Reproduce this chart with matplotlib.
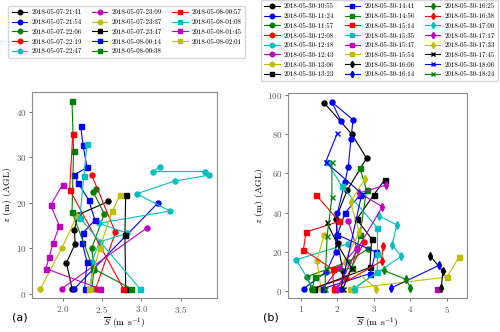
import numpy as np
import matplotlib
matplotlib.use('Agg')
import matplotlib.pyplot as plt

plt.rcParams['font.family'] = 'serif'
plt.rcParams['font.serif'] = ['cmr10', 'DejaVu Serif']
plt.rcParams['mathtext.fontset'] = 'cm'
plt.rcParams['axes.formatter.use_mathtext'] = True

colors = ['k', 'b', 'g', 'r', 'c', 'm', 'y']

# ---- panel (a): 2018-05-07/08 profiles ----
times_a = ['2018-05-07-21:41', '2018-05-07-21:54', '2018-05-07-22:06', '2018-05-07-22:19',
           '2018-05-07-22:47', '2018-05-07-23:09', '2018-05-07-23:37', '2018-05-07-23:47',
           '2018-05-08-00:14', '2018-05-08-00:38', '2018-05-08-00:57', '2018-05-08-01:08',
           '2018-05-08-01:45', '2018-05-08-02:01']
s_a = [
    [2.12, 2.05, 2.16, 2.15, 2.20, 2.58],
    [2.15, 3.21],
    [2.37, 2.40, 2.37, 2.53, 2.39, 2.43],
    [2.42, 2.67, 2.37],
    [2.36, 2.37, 2.47, 2.82, 2.46, 3.36, 2.94, 3.42, 3.85, 3.80, 3.15, 3.23],
    [1.99, 3.07],
    [1.72, 1.99, 2.18],
    [2.80, 2.79, 2.80],
    [2.28, 2.31, 2.25, 2.26, 2.41, 2.33, 2.20, 2.15, 2.31, 2.26, 2.23],
    [2.87, 2.39, 2.12, 2.14, 2.12],
    [2.77, 2.09, 2.13],
    [2.98, 2.22, 2.27, 2.31],
    [2.47, 1.79, 1.83, 1.88, 1.96, 1.85, 2.00],
    [2.33, 2.47, 2.63, 2.73],
]
z_a = [
    [1.1, 6.8, 11.0, 14.1, 17.4, 20.3],
    [1.1, 20.0],
    [1.1, 5.3, 10.0, 17.6, 22.3, 23.0],
    [1.1, 13.5, 26.1],
    [1.1, 7.0, 11.4, 13.3, 15.5, 18.2, 22.0, 24.8, 26.1, 26.9, 26.9, 28.0],
    [1.1, 14.5],
    [1.1, 10.0, 17.0],
    [1.1, 13.0, 21.8],
    [1.1, 7.0, 11.1, 13.4, 16.2, 20.7, 24.3, 26.2, 27.8, 32.7, 36.9],
    [1.1, 5.5, 18.0, 31.4, 42.4],
    [1.1, 22.9, 35.2],
    [1.1, 16.7, 26.0, 33.0],
    [1.1, 5.5, 8.0, 11.1, 14.9, 19.5, 24.0],
    [1.1, 10.0, 18.2, 21.7],
]
markers_a = ['o'] * 7 + ['s'] * 7

# ---- panel (b): 2018-05-30 profiles ----
times_b = ['2018-05-30-10:55', '2018-05-30-11:24', '2018-05-30-11:57', '2018-05-30-12:08',
           '2018-05-30-12:18', '2018-05-30-12:43', '2018-05-30-13:06', '2018-05-30-13:23',
           '2018-05-30-14:41', '2018-05-30-14:56', '2018-05-30-15:14', '2018-05-30-15:35',
           '2018-05-30-15:47', '2018-05-30-15:54', '2018-05-30-16:06', '2018-05-30-16:14',
           '2018-05-30-16:25', '2018-05-30-16:38', '2018-05-30-17:00', '2018-05-30-17:17',
           '2018-05-30-17:33', '2018-05-30-17:45', '2018-05-30-18:06', '2018-05-30-18:24']
s_b = [
    [2.11, 2.15, 2.01, 1.96, 2.27, 2.80, 2.39, 1.64],
    [1.08, 1.70, 1.95, 1.98, 2.00, 2.21, 2.30, 2.37, 2.43, 1.85, 2.10],
    [1.30, 1.16, 2.30, 2.83],
    [1.30, 2.25, 2.73],
    [1.35, 0.87, 2.30],
    [1.60, 2.05, 2.53, 2.30],
    [1.55, 1.44, 1.64],
    [1.35, 2.89, 2.94, 2.53, 3.00, 3.30],
    [1.60, 2.90, 3.05, 2.00, 2.21, 2.62],
    [1.30, 1.40, 2.40, 2.62, 2.80, 2.62],
    [1.90, 1.87, 1.07, 1.14, 2.05, 1.41],
    [2.45, 3.09, 3.10, 3.10, 2.13, 1.71],
    [4.72],
    [2.35, 5.00, 5.33],
    [4.85, 4.89, 4.55],
    [3.46, 4.78],
    [4.00, 3.89, 3.27],
    [1.90, 3.21, 3.25],
    [2.45, 3.75, 3.50, 3.63, 3.13],
    [2.00, 2.55, 3.23, 2.60, 3.34],
    [3.07, 2.20, 2.60, 2.36, 2.75],
    [2.15, 2.39, 2.00, 1.71],
    [2.10, 2.67, 1.68, 2.00],
    [1.66, 1.68, 1.72, 1.85, 1.85],
]
z_b = [
    [1.3, 10.3, 24.5, 37.0, 51.4, 67.7, 80.0, 95.8],
    [1.3, 10.0, 20.0, 28.7, 39.7, 55.8, 63.4, 77.2, 87.2, 96.2, 86.6],
    [1.3, 7.4, 15.0, 21.5],
    [1.3, 6.9, 24.9],
    [1.3, 16.0, 24.2],
    [1.3, 12.0, 22.0, 35.5],
    [1.3, 15.6, 28.7],
    [1.3, 12.1, 26.6, 36.6, 49.1, 56.8],
    [1.3, 9.0, 20.0, 28.7, 39.7, 49.0],
    [1.3, 7.4, 12.0, 28.7, 51.4, 62.5],
    [1.3, 11.1, 21.2, 30.1, 35.5, 49.1],
    [1.3, 9.7, 19.0, 32.1, 53.3, 65.9],
    [1.3],
    [1.3, 7.2, 17.3],
    [1.5, 10.2, 17.8],
    [1.5, 13.1],
    [1.5, 6.0, 10.6],
    [1.3, 15.3, 23.2],
    [1.3, 17.8, 23.7, 33.8, 38.3],
    [1.3, 21.5, 43.0, 50.0, 54.1],
    [1.3, 15.0, 30.0, 45.4, 57.1],
    [1.3, 11.6, 24.0, 35.1],
    [1.3, 49.6, 65.7, 80.5],
    [1.3, 12.0, 28.2, 47.7, 65.7],
]
markers_b = ['o'] * 7 + ['s'] * 7 + ['d'] * 7 + ['x'] * 3

fig = plt.figure(figsize=(5.0, 3.32), dpi=100)
ax1 = fig.add_axes([0.064, 0.1024, 0.370, 0.621])
ax2 = fig.add_axes([0.576, 0.1024, 0.358, 0.618])

for ax, times, ss, zz, mk in [(ax1, times_a, s_a, z_a, markers_a),
                              (ax2, times_b, s_b, z_b, markers_b)]:
    for i, t in enumerate(times):
        ax.plot(ss[i], zz[i], color=colors[i % 7], marker=mk[i],
                markersize=3.6, linewidth=0.8, label=t)
    ax.set_xlabel(r'$\overline{S}$ (m s$^{-1}$)', fontsize=7, labelpad=1)
    ax.set_ylabel(r'$z$ (m) (AGL)', fontsize=7, labelpad=1)
    ax.tick_params(labelsize=6.5, length=2.5, width=0.6, pad=1.5,
                   colors='0.35')
    for sp in ax.spines.values():
        sp.set_color('0.55')
        sp.set_linewidth(0.8)

ax1.set_xticks([2.0, 2.5, 3.0, 3.5])
ax1.set_yticks([0, 10, 20, 30, 40])
ax2.set_xticks([1, 2, 3, 4, 5])
ax2.set_yticks([0, 20, 40, 60, 80, 100])

leg_kw = dict(ncol=3, fontsize=5, handlelength=2.2, handletextpad=0.6,
              columnspacing=1.5, borderpad=0.5, labelspacing=0.55,
              markerscale=0.9, frameon=True, fancybox=True,
              framealpha=0.8, edgecolor='0.8')
ax1.legend(loc='upper left', bbox_to_anchor=(0.01, 0.992),
           bbox_transform=fig.transFigure, **leg_kw)
ax2.legend(loc='upper left', bbox_to_anchor=(0.515, 1.01),
           bbox_transform=fig.transFigure, **leg_kw)

fig.text(0.024, 0.035, '(a)', fontsize=8, family='DejaVu Sans')
fig.text(0.525, 0.035, '(b)', fontsize=8, family='DejaVu Sans')

fig.savefig('out.png', dpi=100)
